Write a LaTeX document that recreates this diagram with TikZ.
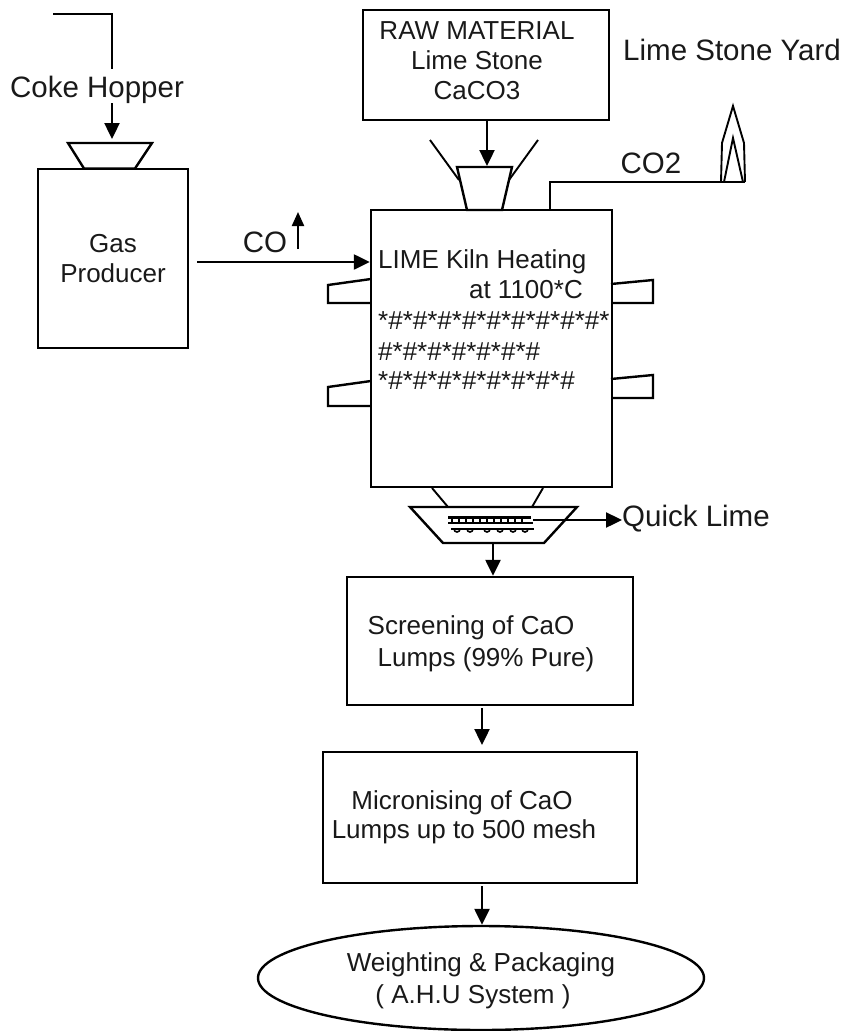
\documentclass[tikz,border=0pt]{standalone}
\usepackage{fontspec}
\setmainfont{Liberation Sans}
\usetikzlibrary{arrows.meta,shapes.geometric}
\begin{document}
\begin{tikzpicture}[x=1pt,y=-1pt,
  ln/.style={line width=2.4pt, black, line join=miter},
  thin/.style={line width=1.9pt, black},
  arr/.style={line width=2.4pt, -{Triangle[length=16pt,width=15pt]}},
  box/.style={draw, line width=2.4pt, inner sep=0pt},
  lbl/.style={font=\fontsize{26}{30}\selectfont, text=black!90, align=center, inner sep=0pt},
  biglbl/.style={font=\fontsize{29.5}{34}\selectfont, text=black!90, inner sep=0pt},
]
\useasboundingbox (0,0) rectangle (844,1031);

% boxes
\node[box, minimum width=246pt, minimum height=110pt] (raw) at (486,65) {};
\node[box, minimum width=150pt, minimum height=179pt, lbl] (gas) at (113,258.5) {Gas\\Producer};
\node[box, minimum width=241pt, minimum height=277pt] (kiln) at (491.5,348.5) {};
\node[box, minimum width=286pt, minimum height=128pt] (screen) at (490,641) {};
\node[box, minimum width=314pt, minimum height=131pt] (micro) at (480,817.5) {};
\node[draw, ellipse, line width=2.4pt, minimum width=446pt, minimum height=104pt, inner sep=0pt] (pack) at (481,978) {};

% texts
\node[biglbl] (cokeT) at (97,90) {Coke Hopper};
\node[biglbl] (yardT) at (732,50) {Lime Stone Yard};
\node[lbl] (rawT) at (477,61) {RAW MATERIAL\\Lime Stone\\CaCO3};
\node[biglbl] (coT) at (265,242) {CO};
\node[biglbl] (co2T) at (651,163) {CO2};
\node[lbl, anchor=west] (k1) at (378,262) {LIME Kiln Heating};
\node[lbl, anchor=east] (k2) at (583,290) {at 1100*C};
\node[lbl, anchor=west] (k3) at (378,321) {*\#*\#*\#*\#*\#*\#*\#*\#*\#*};
\node[lbl, anchor=west] (k4) at (378,352) {\#*\#*\#*\#*\#*\#*\#};
\node[lbl, anchor=west] (k5) at (378,381) {*\#*\#*\#*\#*\#*\#*\#*\#};
\node[biglbl, anchor=west] (qlT) at (622,519) {Quick Lime};
\node[lbl] (s1) at (471,628) {Screening of CaO};
\node[lbl] (s2) at (486,660) {Lumps (99\% Pure)};
\node[lbl] (m1) at (462,803) {Micronising of CaO};
\node[lbl] (m2) at (464,832) {Lumps up to 500 mesh};
\node[lbl] (p1) at (481,965) {Weighting \& Packaging};
\node[lbl] (p2) at (473,997) {( A.H.U System )};

% coke hopper
\draw[ln] (53,14) -- (112,14) -- (112,69);
\coordinate (cokeA) at (112,103);
\coordinate (cokeB) at (112,139);
\draw[arr] (cokeA) -- (cokeB);
\draw[ln] (68,143) -- (152,143) -- (135,168.5) -- (84,168.5) -- cycle;

% raw material to kiln funnel
\coordinate (funTop) at (487,166);
\draw[arr] (raw.south -| funTop) -- (funTop);
\draw[ln] (457,167) -- (512,167) -- (502,210) -- (467,210) -- cycle;
\draw[thin] (430,140) -- (459,180);
\draw[thin] (538,140) -- (509,180);

% CO2 pipe and chimney
\coordinate (pipeA) at (550,210);
\coordinate (pipeB) at (550,182);
\coordinate (pipeC) at (745,182);
\draw[ln] (pipeA) -- (pipeB) -- (pipeC);
\draw[thin] (721,182) -- (722,143) -- (733,106) -- (744,143) -- (745,182);
\draw[thin] (724,182) -- (733,138) -- (743,182);

% CO feed
\coordinate (coA) at (197,262);
\draw[arr] (coA) -- (kiln.west |- coA);
\coordinate (upA) at (298,249);
\coordinate (upB) at (298,212);
\draw[line width=2.2pt, -{Triangle[length=14pt,width=12pt]}] (upA) -- (upB);

% side ports
\draw[ln] (371,279) -- (328,285) -- (328,303) -- (371,303);
\draw[ln] (371,381) -- (328,387) -- (328,406) -- (371,406);
\draw[ln] (611,284) -- (653,280) -- (653,303) -- (611,303);
\draw[ln] (611,379) -- (653,375) -- (653,398) -- (611,398);

% bottom outlet and tray
\draw[thin] (432,488) -- (448,507);
\draw[thin] (543,488) -- (532,507);
\draw[ln] (410,507) -- (577,507) -- (544,543) -- (443,543) -- cycle;
\draw[line width=3pt] (448,517) -- (531,517);
\draw[line width=2.6pt] (448,523) -- (533,523);
\draw[line width=2.6pt] (451,529) -- (534,529);
\foreach \x in {452,459,...,528} \draw[line width=1.2pt] (\x,517) -- (\x,523);
\foreach \x in {457,470,487,500,513,525} \draw[line width=1.6pt] (\x-3,529) arc[start angle=180,end angle=360,radius=3pt];
\coordinate (qlA) at (533,520);
\draw[arr] (qlA) -- (qlT.west |- qlA);

% flow down
\coordinate (trayB) at (493,543);
\draw[arr] (trayB) -- (screen.north -| trayB);
\coordinate (sA) at (482,708);
\coordinate (sB) at (482,745);
\draw[arr] (sA) -- (sB);
\coordinate (mA) at (482,886);
\draw[arr] (mA) -- (pack.north -| mA);
\end{tikzpicture}
\end{document}
